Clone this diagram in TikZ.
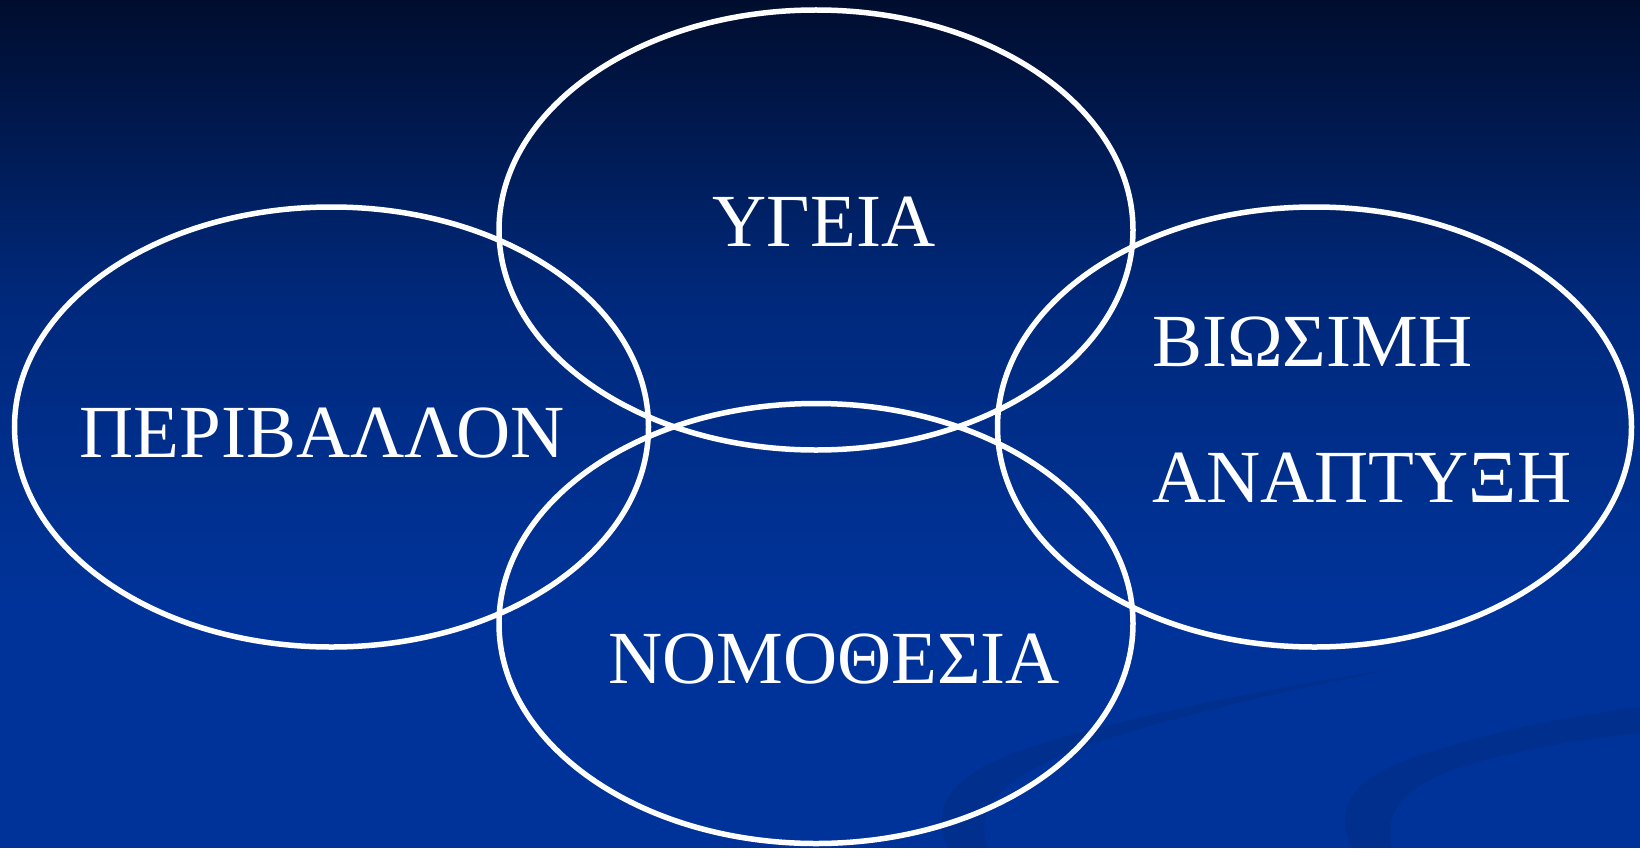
\documentclass[tikz,border=0pt]{standalone}
\usepackage{fontspec}
\setmainfont{Liberation Serif}
\usetikzlibrary{shapes.geometric}
\definecolor{bgtop}{HTML}{000D2E}
\definecolor{bgmid}{HTML}{00297C}
\definecolor{bgbot}{HTML}{003399}
\tikzset{
  ring/.style={ellipse, draw=white, line width=5.5bp, minimum width=634bp, minimum height=440bp, inner sep=0pt},
  label/.style={text=white, inner sep=0pt, font=\fontsize{75bp}{80bp}\selectfont},
  swoosh/.style={fill=black, fill opacity=0.07, draw=none}
}
\begin{document}
\begin{tikzpicture}[x=1bp,y=-1bp]
\useasboundingbox (0,0) rectangle (1640,848);
\fill[bgbot] (0,0) rectangle (1640,848);
\shade[top color=bgtop, bottom color=bgbot, middle color=bgmid] (0,0) rectangle (1640,600);
% decorative swooshes
\path[swoosh] (948,848) .. controls (925,800) and (960,765) .. (1060,738) .. controls (1160,710) and (1300,682) .. (1400,668) .. controls (1300,688) and (1160,718) .. (1070,752) .. controls (995,782) and (975,812) .. (988,848) -- cycle;
\path[swoosh] (1352,848) .. controls (1335,810) and (1345,780) .. (1420,755) .. controls (1490,732) and (1570,715) .. (1640,707) -- (1640,733) .. controls (1570,740) and (1490,755) .. (1440,775) .. controls (1395,795) and (1385,820) .. (1392,848) -- cycle;
% ellipses
\node[ring] (top) at (816,230) {};
\node[ring] (left) at (331.5,427) {};
\node[ring] (right) at (1314.5,427) {};
\node[ring] (bottom) at (816,623.5) {};
% labels
\node[label, anchor=base] (t1) at (824,246) {ΥΓΕΙΑ};
\node[label, anchor=base] (t2) at (322,457) {ΠΕΡΙΒΑΛΛΟΝ};
\node[label, anchor=base] (t3) at (834,683) {ΝΟΜΟΘΕΣΙΑ};
\node[label, anchor=base west] (t4) at (1152,366) {ΒΙΩΣΙΜΗ};
\node[label, anchor=base west] (t5) at (1152,502) {ΑΝΑΠΤΥΞΗ};
\end{tikzpicture}
\end{document}
